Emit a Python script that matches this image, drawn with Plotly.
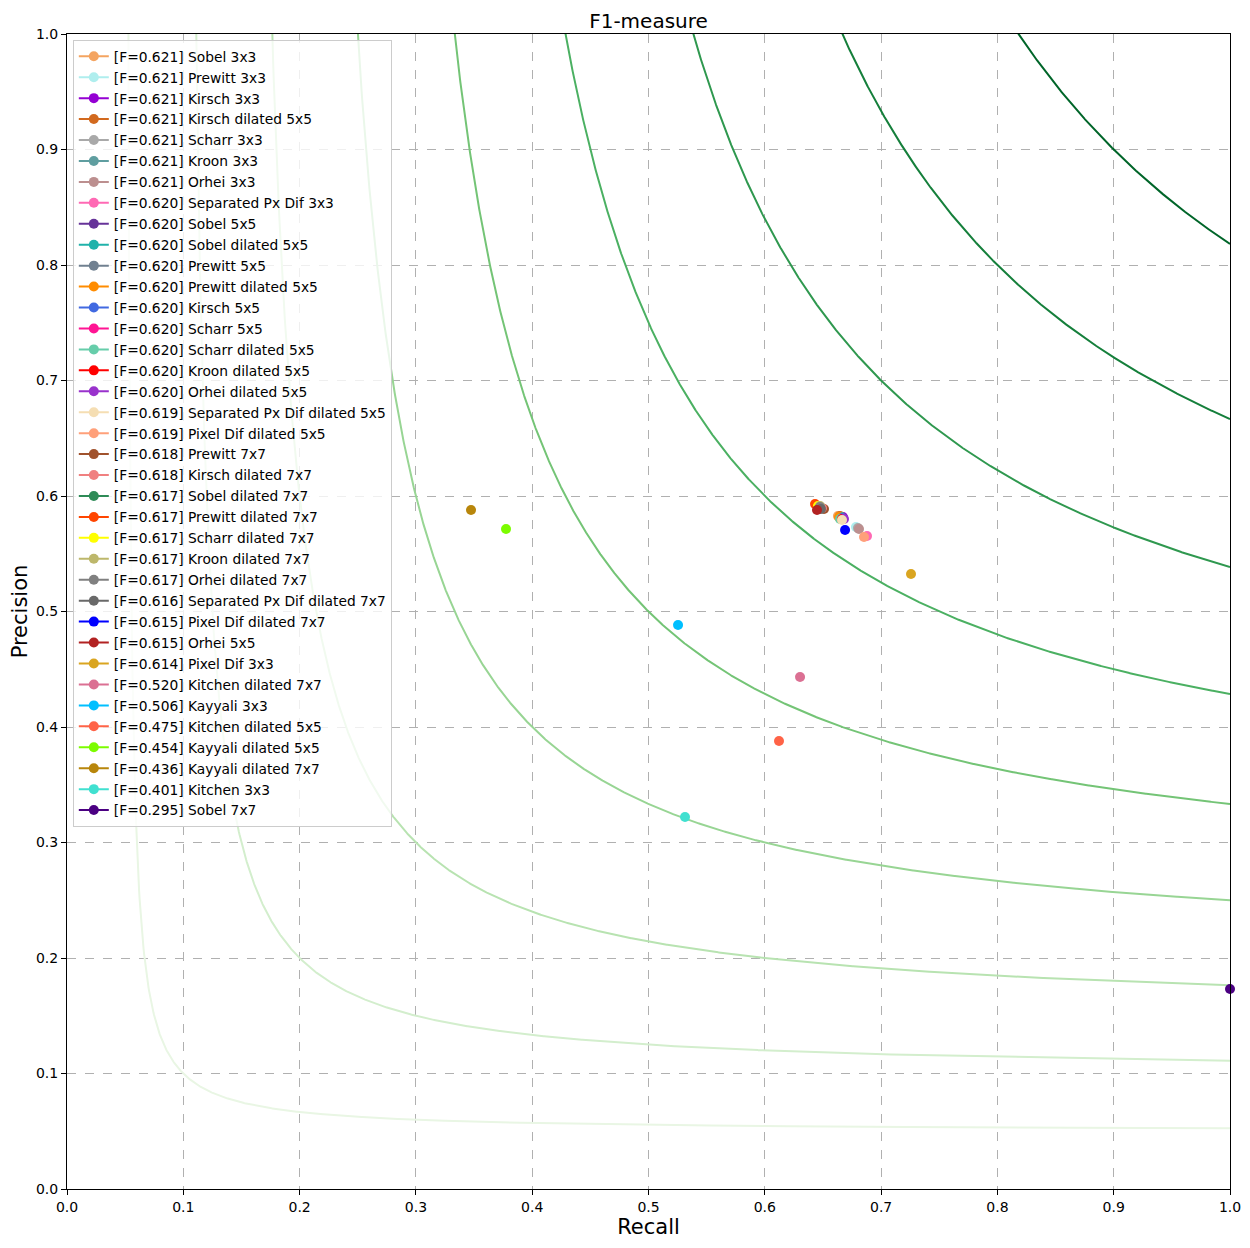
import numpy as np
import plotly.graph_objects as go

# iso-F reference levels
f_levels = [0.1, 0.2, 0.3, 0.4, 0.5, 0.6, 0.7, 0.8, 0.9]
f_colors = ["#e9f6e4", "#d3eecd", "#b8e3b1", "#98d594", "#74c476",
            "#4bb062", "#2f984f", "#157f3b", "#006529"]

methods = [
    "Sobel 3x3", "Prewitt 3x3", "Kirsch 3x3", "Kirsch dilated 5x5", "Scharr 3x3",
    "Kroon 3x3", "Orhei 3x3", "Separated Px Dif 3x3", "Sobel 5x5", "Sobel dilated 5x5",
    "Prewitt 5x5", "Prewitt dilated 5x5", "Kirsch 5x5", "Scharr 5x5", "Scharr dilated 5x5",
    "Kroon dilated 5x5", "Orhei dilated 5x5", "Separated Px Dif dilated 5x5",
    "Pixel Dif dilated 5x5", "Prewitt 7x7", "Kirsch dilated 7x7", "Sobel dilated 7x7",
    "Prewitt dilated 7x7", "Scharr dilated 7x7", "Kroon dilated 7x7", "Orhei dilated 7x7",
    "Separated Px Dif dilated 7x7", "Pixel Dif dilated 7x7", "Orhei 5x5", "Pixel Dif 3x3",
    "Kitchen dilated 7x7", "Kayyali 3x3", "Kitchen dilated 5x5", "Kayyali dilated 5x5",
    "Kayyali dilated 7x7", "Kitchen 3x3", "Sobel 7x7",
]
f_scores = [
    0.621, 0.621, 0.621, 0.621, 0.621, 0.621, 0.621, 0.620, 0.620, 0.620,
    0.620, 0.620, 0.620, 0.620, 0.620, 0.620, 0.620, 0.619, 0.619, 0.618,
    0.618, 0.617, 0.617, 0.617, 0.617, 0.617, 0.616, 0.615, 0.615, 0.614,
    0.520, 0.506, 0.475, 0.454, 0.436, 0.401, 0.295,
]
recall = [
    0.6629, 0.6784, 0.6672, 0.6647, 0.6801, 0.6647, 0.6810, 0.6879, 0.6672, 0.6655,
    0.6655, 0.6638, 0.6664, 0.6672, 0.6647, 0.6664, 0.6681, 0.6664, 0.6853, 0.6509,
    0.6492, 0.6466, 0.6432, 0.6457, 0.6475, 0.6475, 0.6483, 0.6690, 0.6449, 0.7257,
    0.6303, 0.5254, 0.6122, 0.3775, 0.3474, 0.5314, 1.0,
]
precision = [
    0.5827, 0.5732, 0.5818, 0.5827, 0.5723, 0.5818, 0.5714, 0.5654, 0.5810, 0.5818,
    0.5810, 0.5818, 0.5810, 0.5801, 0.5801, 0.5801, 0.5801, 0.5792, 0.5645, 0.5887,
    0.5896, 0.5896, 0.5931, 0.5913, 0.5913, 0.5905, 0.5887, 0.5706, 0.5879, 0.5325,
    0.4433, 0.4883, 0.3879, 0.5714, 0.5879, 0.3221, 0.1732,
]
colors = [
    "sandybrown", "paleturquoise", "darkviolet", "chocolate", "darkgray",
    "cadetblue", "rosybrown", "hotpink", "rebeccapurple", "lightseagreen",
    "slategray", "darkorange", "royalblue", "deeppink", "mediumaquamarine",
    "red", "darkorchid", "wheat", "lightsalmon", "sienna",
    "lightcoral", "seagreen", "orangered", "yellow", "darkkhaki",
    "gray", "dimgray", "blue", "firebrick", "goldenrod",
    "palevioletred", "deepskyblue", "tomato", "lawngreen", "darkgoldenrod",
    "turquoise", "indigo",
]

fig = go.Figure()

# iso-F curves: P = F*R / (2R - F)
for f, c in zip(f_levels, f_colors):
    r = np.linspace(f / 2 + 1e-4, 1.0, 2000)
    p = f * r / (2 * r - f)
    keep = p <= 1.5
    fig.add_trace(go.Scatter(
        x=r[keep], y=p[keep], mode="lines",
        line=dict(color=c, width=2), showlegend=False, hoverinfo="skip",
    ))

for name, f, r, p, c in zip(methods, f_scores, recall, precision, colors):
    fig.add_trace(go.Scatter(
        x=[r], y=[p], mode="lines+markers",
        name=f"[F={f:.3f}] {name}",
        marker=dict(color=c, size=10),
        line=dict(color=c, width=2),
        cliponaxis=False,
    ))

axis_common = dict(
    range=[0, 1], dtick=0.1, tickformat=".1f", automargin=False,
    showline=True, linecolor="black", linewidth=1, mirror=True,
    ticks="outside", ticklen=5, tickcolor="black",
    showgrid=True, gridcolor="#b0b0b0", gridwidth=1, griddash="dash",
    zeroline=False, tickfont=dict(size=14, color="black"),
)

fig.update_layout(
    width=1242, height=1240,
    paper_bgcolor="white", plot_bgcolor="white",
    font=dict(family="DejaVu Sans", color="black"),
    margin=dict(l=59, r=20, t=26, b=59),
    title=dict(text="F1-measure", x=0.5, xref="paper", y=0.9893, yanchor="middle",
               font=dict(size=20)),
    xaxis=dict(title=dict(text="Recall", font=dict(size=21), standoff=3), **axis_common),
    yaxis=dict(title=dict(text="Precision", font=dict(size=21), standoff=5), **axis_common),
    legend=dict(
        x=0.005, y=0.995, xanchor="left", yanchor="top",
        bgcolor="rgba(255,255,255,0.8)", bordercolor="#cccccc", borderwidth=1,
        font=dict(size=13.8), tracegroupgap=0, itemwidth=30,
    ),
    showlegend=True,
)

fig.write_html("out.html")
